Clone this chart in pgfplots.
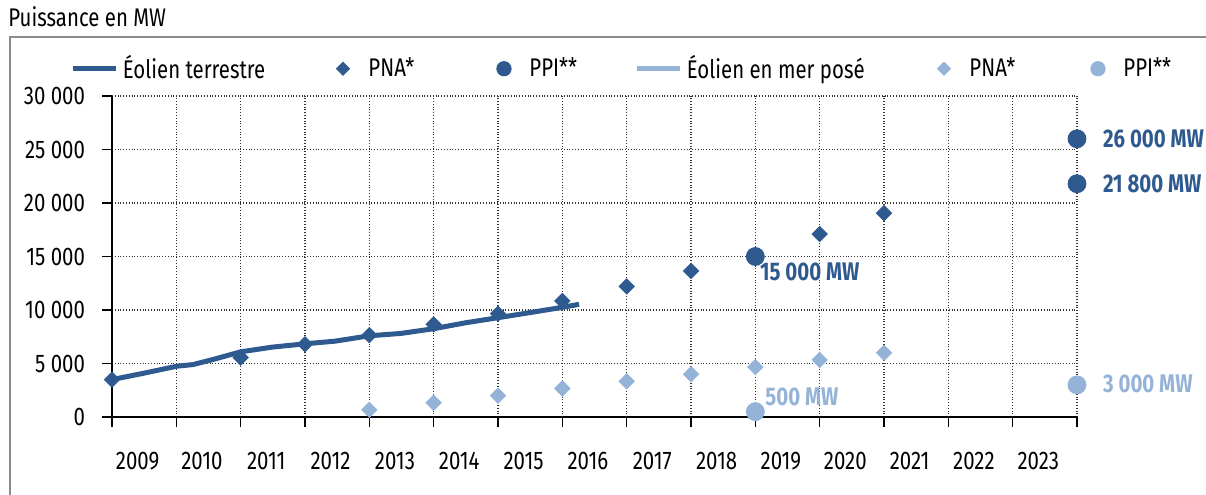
\documentclass[border=0pt]{standalone}
\usepackage{fontspec}
\setmainfont{Fira Sans}[FakeStretch=0.8]
\usepackage{pgfplots}
\pgfplotsset{compat=1.18}
\definecolor{dblue}{RGB}{47,90,143}
\definecolor{lblue}{RGB}{149,179,215}
\newcommand{\fs}{\fontsize{12.8}{15}\selectfont}
\pgfplotsset{
  lineleg/.style={legend image code/.code={\draw[##1] (0bp,0bp) -- (21.5bp,0bp);}},
  markleg/.style={legend image code/.code={\path[draw=none] (0bp,0bp) -- (21.5bp,0bp); \draw[##1, only marks] plot coordinates {(10.75bp,0bp)};}},
}
\begin{document}
\begin{tikzpicture}
\useasboundingbox (0bp,0bp) rectangle (603bp,247.5bp);
\node[anchor=west, inner sep=0pt, font=\fs] at (4bp,239bp) {Puissance en MW};
\begin{axis}[
  at={(56bp,39bp)}, anchor=south west,
  scale only axis, width=482.5bp, height=160.5bp,
  xmin=0, xmax=15, ymin=0, ymax=30000,
  scaled y ticks=false,
  axis x line=bottom, axis y line=left,
  axis line style={-, line width=0.8bp, black},
  every outer x axis line/.append style={-},
  every outer y axis line/.append style={-},
  xtick={0,...,15},
  xticklabels={2009,2010,2011,2012,2013,2014,2015,2016,2017,2018,2019,2020,2021,2022,2023,{}},
  xticklabel style={xshift=12.8bp, yshift=-9bp, font=\fs},
  ytick={0,5000,10000,15000,20000,25000,30000},
  yticklabels={0,5~000,10~000,15~000,20~000,25~000,30~000},
  yticklabel style={xshift=-5bp, font=\fs},
  grid=major, grid style={densely dotted, black!80, line width=0.55bp},
  tick align=outside, major tick length=5bp, tick style={black, line width=0.8bp},
  clip=false,
  legend columns=6,
  legend cell align=left,
  legend style={draw=none, fill=none, at={(-0.0425,1.085)}, anchor=west,
    inner sep=0pt, outer sep=0pt, nodes={inner sep=0pt},
    column sep=0pt, row sep=0pt,
    /tikz/every odd column/.append style={column sep=2bp},
    font=\fs},
]
% onshore installed capacity
\addplot[dblue, line width=2.5bp, forget plot] coordinates {
 (0,3500) (0.52,4125) (1.01,4750) (1.26,4900) (1.57,5375) (2.0,6090)
 (2.49,6530) (3.0,6840) (3.47,7090) (4.0,7590) (4.49,7810) (5.0,8250)
 (5.5,8810) (6.0,9280) (6.49,9750) (7.0,10250) (7.26,10530)
};
% onshore PNA
\addplot[only marks, mark=square*, mark size=2.7bp, mark options={rotate=45, dblue, fill=dblue}, forget plot] coordinates {
 (0,3500) (2,5550) (3,6800) (4,7650) (5,8650) (6,9650) (7,10850) (8,12200) (9,13650) (11,17100) (12,19050)
};
% onshore PPI
\addplot[only marks, mark=*, mark size=4.5bp, mark options={dblue, fill=dblue}, forget plot] coordinates {
 (10,15000) (15,26000) (15,21800)
};
% offshore PNA
\addplot[only marks, mark=square*, mark size=2.7bp, mark options={rotate=45, lblue, fill=lblue}, forget plot] coordinates {
 (4,667) (5,1333) (6,2000) (7,2667) (8,3333) (9,4000) (10,4667) (11,5333) (12,6000)
};
% offshore PPI
\addplot[only marks, mark=*, mark size=4.5bp, mark options={lblue, fill=lblue}, forget plot] coordinates {
 (10,500) (15,3000)
};
% legend
\addlegendimage{dblue, line width=2.5bp, lineleg}
\addlegendentry{\makebox[99.25bp][l]{Éolien terrestre}}
\addlegendimage{only marks, mark=square*, mark size=2.3bp, mark options={rotate=45, dblue, fill=dblue}, markleg}
\addlegendentry{\makebox[57bp][l]{PNA*}}
\addlegendimage{only marks, mark=*, mark size=3.6bp, mark options={dblue, fill=dblue}, markleg}
\addlegendentry{\makebox[52.75bp][l]{PPI**}}
\addlegendimage{lblue, line width=2.5bp, lineleg}
\addlegendentry{\makebox[117.75bp][l]{Éolien en mer posé}}
\addlegendimage{only marks, mark=square*, mark size=2.3bp, mark options={rotate=45, lblue, fill=lblue}, markleg}
\addlegendentry{\makebox[53.5bp][l]{PNA*}}
\addlegendimage{only marks, mark=*, mark size=3.6bp, mark options={lblue, fill=lblue}, markleg}
\addlegendentry{PPI**}
% value labels
\node[anchor=west, inner sep=0pt, text=dblue, font=\bfseries\fs] at (axis cs:15.40,26000) {26~000 MW};
\node[anchor=west, inner sep=0pt, text=dblue, font=\bfseries\fs] at (axis cs:15.40,21800) {21~800 MW};
\node[anchor=west, inner sep=0pt, text=dblue, font=\bfseries\fs] at (axis cs:10.07,13550) {15~000 MW};
\node[anchor=west, inner sep=0pt, text=lblue, font=\bfseries\fs] at (axis cs:10.15,1870) {500 MW};
\node[anchor=west, inner sep=0pt, text=lblue, font=\bfseries\fs] at (axis cs:15.40,3100) {3~000 MW};
\end{axis}
\draw[black!45, line width=0.6bp] (5bp,-5bp) |- (620bp,229bp);
\end{tikzpicture}
\end{document}
